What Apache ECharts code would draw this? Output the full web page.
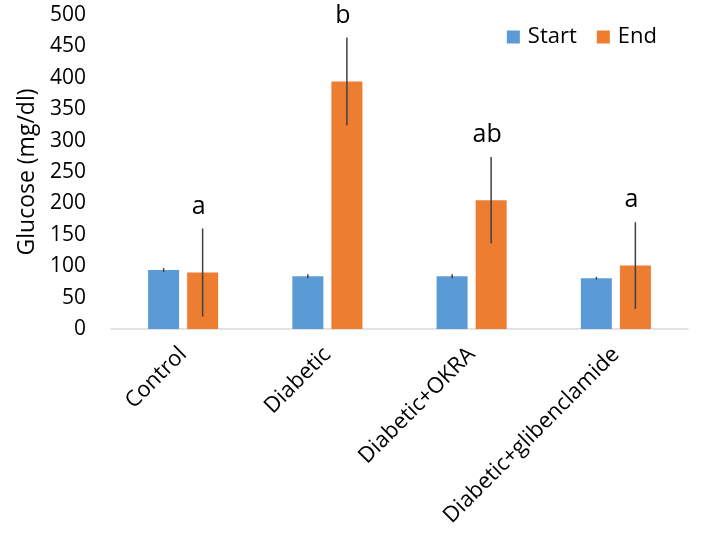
<!DOCTYPE html>
<html>
<head>
<meta charset="UTF-8">
<title>glucose</title>
<script src="https://cdn.jsdelivr.net/npm/echarts@6/dist/echarts.min.js"></script>
<style>
  html, body { margin: 0; padding: 0; background: #fff; }
  #chart { width: 702px; height: 540px; }
</style>
</head>
<body>
<div id="chart"></div>
<script type="text/javascript">
    var groups = ['Control', 'Diabetic', 'Diabetic+OKRA', 'Diabetic+glibenclamide'];
    var startVals = [94, 84, 84, 81];
    var startErr = [3, 3, 3, 2];
    var endVals = [90, 394, 205, 101];
    var endErr = [70, 70, 69, 69];
    var letters = ['a', 'b', 'ab', 'a'];
    var yTicks = [0, 50, 100, 150, 200, 250, 300, 350, 400, 450, 500];

    var font = '"Open Sans", "Liberation Sans", sans-serif';
    var barW = 31;
    var shift = 19.5; // half of bar + gap, px

    // error bars (and letters) drawn through the axis scale
    function errRender(vals, errs, dir, withText) {
        return function (params, api) {
            var i = api.value(0);
            var v = vals[i], e = errs[i];
            var top = api.coord([i, v + e]);
            var bot = api.coord([i, v - e]);
            var x = top[0] + dir * shift;
            var kids = [{
                type: 'line',
                shape: { x1: x, y1: top[1], x2: x, y2: bot[1] },
                style: { stroke: '#404040', lineWidth: 1.5 }
            }];
            if (withText) {
                kids.push({
                    type: 'text',
                    style: {
                        text: letters[i], x: x - 4, y: top[1] - 22,
                        align: 'center', verticalAlign: 'middle',
                        font: '25px ' + font, fill: '#000'
                    }
                });
            }
            return { type: 'group', children: kids };
        };
    }

    var myChart = echarts.init(document.getElementById('chart'));
    var option = {
        animation: false,
        grid: { left: 111, right: 14, top: 15, bottom: 211, containLabel: false },
        legend: {
            data: ['Start', 'End'],
            right: 40, top: 21,
            icon: 'rect', itemWidth: 13, itemHeight: 13, itemGap: 20,
            textStyle: { fontFamily: font, fontSize: 22, color: '#000', padding: [0, 0, 0, 3] }
        },
        xAxis: {
            type: 'category',
            data: groups,
            axisLine: { lineStyle: { color: '#d9d9d9', width: 1.5 } },
            axisTick: { show: false },
            axisLabel: { rotate: 45, interval: 0, margin: 22, fontFamily: font, fontSize: 22, color: '#000' }
        },
        yAxis: {
            type: 'value',
            min: yTicks[0], max: yTicks[yTicks.length - 1], interval: 50,
            name: 'Glucose (mg/dl)', nameLocation: 'middle', nameGap: 70, nameRotate: 90,
            nameTextStyle: { fontFamily: font, fontSize: 23, color: '#000' },
            axisLine: { show: false },
            axisTick: { show: false },
            splitLine: { show: false },
            axisLabel: { margin: 25, fontFamily: font, fontSize: 21, color: '#000' }
        },
        series: [
            { name: 'Start', type: 'bar', data: startVals, barWidth: barW, barGap: '26%', itemStyle: { color: '#5B9BD5' } },
            { name: 'End', type: 'bar', data: endVals, barWidth: barW, barGap: '26%', itemStyle: { color: '#ED7D31' } },
            { type: 'custom', data: [0, 1, 2, 3], renderItem: errRender(startVals, startErr, -1, false), z: 5, silent: true },
            { type: 'custom', data: [0, 1, 2, 3], renderItem: errRender(endVals, endErr, 1, true), z: 5, silent: true }
        ]
    };
    myChart.setOption(option);
</script>
</body>
</html>
